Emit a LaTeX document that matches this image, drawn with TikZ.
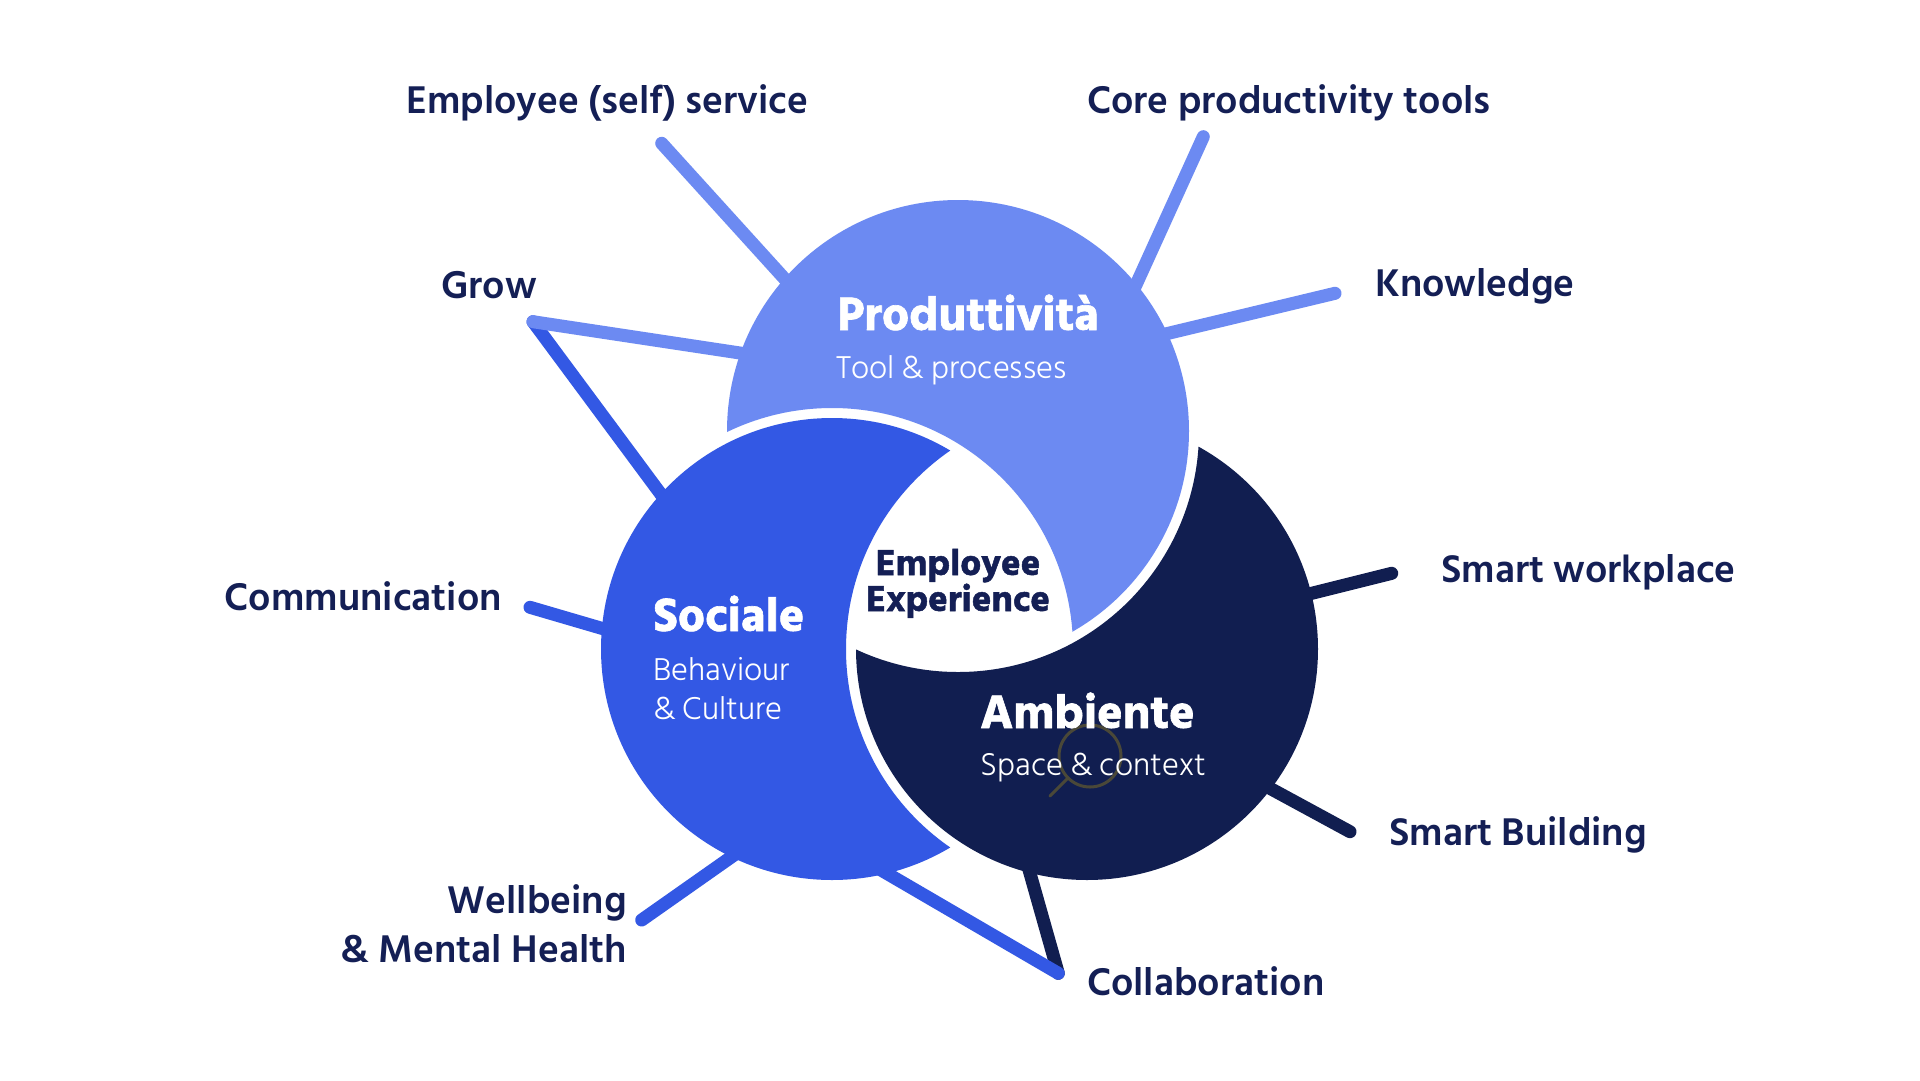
\documentclass[tikz,border=0pt]{standalone}
\usepackage{fontspec}
\setmainfont{Hind Siliguri}
\newfontfamily\fsemi{Hind Siliguri SemiBold}
\newfontfamily\flight{Hind Siliguri Light}
\newfontfamily\fblack{Hind Siliguri Bold}[FakeBold=1.3]
\usetikzlibrary{calc}
\definecolor{cP}{HTML}{6C8AF2}
\definecolor{cS}{HTML}{3358E4}
\definecolor{cA}{HTML}{111E50}
\definecolor{navy}{HTML}{141F55}
\definecolor{wm}{HTML}{4A4838}
\tikzset{
  lab/.style={font=\fsemi\fontsize{39.6}{44}\selectfont, text=navy, inner sep=0pt},
  ttl/.style={font=\fblack\fontsize{48}{52}\selectfont, text=white, inner sep=0pt},
  subt/.style={font=\flight\fontsize{32.4}{37}\selectfont, text=white, inner sep=0pt},
  ext/.style={font=\fblack\fontsize{37}{41}\selectfont, text=navy, inner sep=0pt},
  spoke/.style={line width=13pt, line cap=round}
}
\begin{document}
\begin{tikzpicture}[x=1pt,y=-1pt]
\useasboundingbox (0,0) rectangle (1920,1080);
\fill[white] (0,0) rectangle (1920,1080);
% circle centres
\coordinate (P) at (958,431);
\coordinate (S) at (832,649);
\coordinate (A) at (1087,649);
% spoke end points
\coordinate (eEmp) at (661.7,143.3);  \coordinate (iEmp) at (783,277);
\coordinate (eCore) at (1203.3,136.7); \coordinate (iCore) at (1136.7,283.3);
\coordinate (eKnow) at (1335,293.3);  \coordinate (iKnow) at (1168.3,333.3);
\coordinate (eGrow) at (533,321.7);   \coordinate (iGrowP) at (740,353); \coordinate (iGrowS) at (660,493);
\coordinate (eComm) at (530,607.3);   \coordinate (iComm) at (601.7,628.3);
\coordinate (eWell) at (641.7,920);   \coordinate (iWell) at (731.7,856.7);
\coordinate (eColl) at (1058.3,973.3); \coordinate (iCollS) at (886.7,873.3); \coordinate (iCollA) at (1030,873.3);
\coordinate (eBuild) at (1350,831.7); \coordinate (iBuild) at (1270,788.3);
\coordinate (eWork) at (1391.7,573.3); \coordinate (iWork) at (1311.7,593.3);
% spokes (under the shapes)
\draw[spoke, cS] (eGrow) -- ($(eGrow)!1.08!(iGrowS)$);
\draw[spoke, cP] (eGrow) -- ($(eGrow)!1.08!(iGrowP)$);
\draw[spoke, cP] (eEmp) -- ($(eEmp)!1.1!(iEmp)$);
\draw[spoke, cP] (eCore) -- ($(eCore)!1.1!(iCore)$);
\draw[spoke, cP] (eKnow) -- ($(eKnow)!1.1!(iKnow)$);
\draw[spoke, cS] (eComm) -- ($(eComm)!1.2!(iComm)$);
\draw[spoke, cS] (eWell) -- ($(eWell)!1.15!(iWell)$);
\draw[spoke, cA] (eColl) -- ($(eColl)!1.1!(iCollA)$);
\draw[spoke, cS] (eColl) -- ($(eColl)!1.06!(iCollS)$);
\draw[spoke, cA] (eBuild) -- ($(eBuild)!1.15!(iBuild)$);
\draw[spoke, cA] (eWork) -- ($(eWork)!1.15!(iWork)$);
% crescents: each circle minus the widened next circle
\begin{scope}
  \clip (0,0) -- (1920,0) -- (1920,1080) -- (0,1080) -- cycle (S) circle (241pt);
  \fill[cP] (P) circle (231pt);
\end{scope}
\begin{scope}
  \clip (0,0) -- (1920,0) -- (1920,1080) -- (0,1080) -- cycle (A) circle (241pt);
  \fill[cS] (S) circle (231pt);
\end{scope}
\begin{scope}
  \clip (0,0) -- (1920,0) -- (1920,1080) -- (0,1080) -- cycle (P) circle (241pt);
  \fill[cA] (A) circle (231pt);
\end{scope}
% faint magnifier mark
\draw[wm, line width=3pt] (1090,756) circle (31pt);
\draw[wm, line width=3pt, line cap=round] (1068,778) -- (1050,796);
% titles
\node[ttl, anchor=base west] (pt) at (837,330) {Produttività};
\node[subt, anchor=base west] (ps) at (836,378) {Tool \& processes};
\node[ttl, anchor=base west] (st) at (653,631) {Sociale};
\node[subt, anchor=base west] (ss1) at (653,680) {Behaviour};
\node[subt, anchor=base west] (ss2) at (653,719) {\& Culture};
\node[ttl, anchor=base west] (at) at (980,728) {Ambiente};
\node[subt, anchor=base west] (as) at (980,775) {Space \& context};
\node[ext, anchor=base] (ex1) at (958,575) {Employee};
\node[ext, anchor=base] (ex2) at (958,611) {Experience};
% labels
\node[lab, anchor=base west] (lEmp) at (406,113) {Employee (self) service};
\node[lab, anchor=base west] (lCore) at (1087,113) {Core productivity tools};
\node[lab, anchor=base east] (lGrow) at (537,298) {Grow};
\node[lab, anchor=base west] (lKnow) at (1375,296) {Knowledge};
\node[lab, anchor=base east] (lComm) at (502,610) {Communication};
\node[lab, anchor=base east] (lWell1) at (627,913) {Wellbeing};
\node[lab, anchor=base east] (lWell2) at (627,962) {\& Mental Health};
\node[lab, anchor=base west] (lColl) at (1087,995) {Collaboration};
\node[lab, anchor=base west] (lBuild) at (1389,845) {Smart Building};
\node[lab, anchor=base west] (lWork) at (1441,582) {Smart workplace};
\end{tikzpicture}
\end{document}
